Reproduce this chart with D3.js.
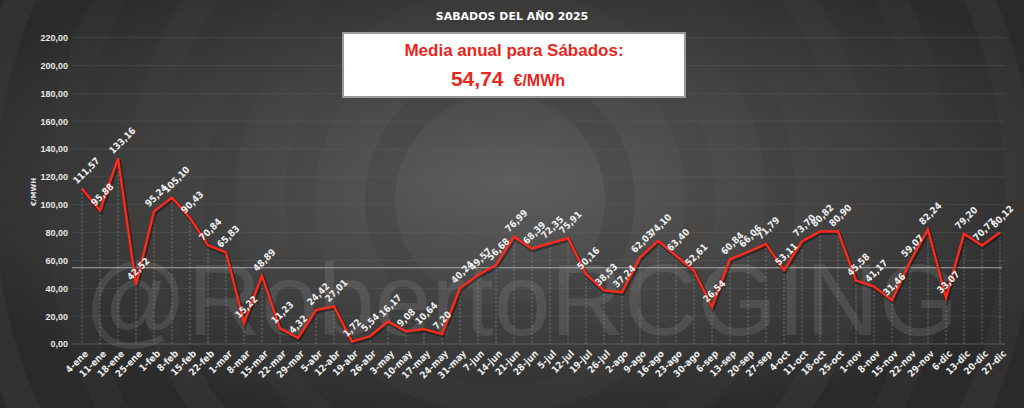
<!DOCTYPE html>
<html><head><meta charset="utf-8">
<script src="https://cdn.jsdelivr.net/npm/d3@7"></script>
<style>body{margin:0;background:#333;}svg{display:block;font-family:"DejaVu Sans",sans-serif;}</style>
</head><body>
<svg id="chart" width="1024" height="408"></svg>
<script>
// sabados 2025
const labels = ["4-ene","11-ene","18-ene","25-ene","1-feb","8-feb","15-feb","22-feb","1-mar","8-mar","15-mar","22-mar","29-mar","5-abr","12-abr","19-abr","26-abr","3-may","10-may","17-may","24-may","31-may","7-jun","14-jun","21-jun","28-jun","5-jul","12-jul","19-jul","26-jul","2-ago","9-ago","16-ago","23-ago","30-ago","6-sep","13-sep","20-sep","27-sep","4-oct","11-oct","18-oct","25-oct","1-nov","8-nov","15-nov","22-nov","29-nov","6-dic","13-dic","20-dic","27-dic"];
const precios = [111.57,95.88,133.16,42.52,95.24,105.10,90.43,70.84,65.83,15.22,48.89,11.23,4.32,24.42,27.01,1.72,5.54,16.17,9.08,10.64,7.20,40.24,49.57,56.68,76.99,68.39,72.35,75.91,50.16,38.53,37.24,62.03,74.10,63.40,52.61,26.54,60.84,66.06,71.79,53.11,73.70,80.82,80.90,45.58,41.17,31.46,59.07,82.24,33.07,79.20,70.77,80.12];
const yTicks = [0,20,40,60,80,100,120,140,160,180,200,220];
const media = 54.74;

const svg = d3.select("#chart");
const fmt = v => v.toFixed(2).replace(".", ",");
const narrow = "Liberation Sans Narrow, DejaVu Sans Condensed, sans-serif";

// fondo
const defs = svg.append("defs");
const rg = defs.append("radialGradient").attr("id","bg").attr("cx","50%").attr("cy","45%").attr("r","60%");
rg.append("stop").attr("offset","0%").attr("stop-color","#5e5e5e");
rg.append("stop").attr("offset","100%").attr("stop-color","#2a2a2a");
svg.append("rect").attr("width",1024).attr("height",408).attr("fill","url(#bg)");
[120,200,280,360,440,520].forEach((r,i) => {
  svg.append("circle").attr("cx",500).attr("cy",200).attr("r",r)
    .attr("fill","none").attr("stroke", i%2 ? "#4a4040" : "#3e3a3a").attr("stroke-width",30).attr("opacity",0.3);
});

const x = d3.scalePoint().domain(labels).range([82, 1000]);
const y = d3.scaleLinear().domain([0,220]).range([344, 37.6]);

// grid
svg.append("g").selectAll("line").data(yTicks.slice(1)).join("line")
  .attr("x1",72).attr("x2",1005).attr("y1",d=>y(d)).attr("y2",d=>y(d))
  .attr("stroke","#6a6a6a").attr("stroke-width",0.5).attr("opacity",0.6);

// watermark
svg.append("text").attr("x",84).attr("y",335)
  .attr("font-family","Liberation Sans, sans-serif").attr("font-size",102)
  .attr("fill","#9a9a9a").attr("opacity",0.2).text("@RobertoRCGING");

const ya = svg.append("g").attr("transform","translate(72,0)")
  .call(d3.axisLeft(y).tickValues(yTicks).tickFormat(fmt).tickSize(0).tickPadding(4));
ya.select(".domain").remove();
ya.selectAll("text").attr("fill","#e6e6e6").attr("font-size",9).attr("font-weight","bold");

svg.append("text").attr("transform","translate(36,192) rotate(-90)").attr("text-anchor","middle")
  .attr("fill","#e6e6e6").attr("font-size",7).attr("font-weight","bold").text("€/MWH");

// eje x
svg.append("line").attr("x1",72).attr("x2",1005).attr("y1",y(0)).attr("y2",y(0)).attr("stroke","#777").attr("stroke-width",0.6);
const xa = svg.append("g").attr("transform",`translate(0,${y(0)})`)
  .call(d3.axisBottom(x).tickSize(0).tickPadding(6));
xa.select(".domain").remove();
xa.selectAll("text").attr("fill","#eee").attr("font-size",9.5).attr("font-weight","bold").attr("font-family",narrow)
  .attr("text-anchor","end").attr("dx","-0.3em").attr("dy","0.6em").attr("transform","rotate(-45)");

// lineas verticales
svg.append("g").selectAll("line").data(precios).join("line")
  .attr("x1",(d,i)=>x(labels[i])).attr("x2",(d,i)=>x(labels[i]))
  .attr("y1",d=>y(d)).attr("y2",y(0))
  .attr("stroke","#8a8a8a").attr("stroke-width",0.7).attr("stroke-dasharray","2,2");

// media
svg.append("line").attr("x1",72).attr("x2",1002).attr("y1",y(media)).attr("y2",y(media))
  .attr("stroke","#a8a8a8").attr("stroke-width",1);

// serie
const line = d3.line().x((d,i)=>x(labels[i])).y(d=>y(d));
svg.append("path").datum(precios).attr("d",line).attr("fill","none")
  .attr("stroke","#000").attr("stroke-opacity",0.35).attr("stroke-width",4).attr("transform","translate(1,1.5)");
svg.append("path").datum(precios).attr("d",line).attr("fill","none")
  .attr("stroke","#ff2a1a").attr("stroke-width",2.4);

svg.append("g").selectAll("text").data(precios).join("text")
  .attr("transform",(d,i)=>`translate(${x(labels[i])-5},${y(d)-4}) rotate(-45)`)
  .attr("fill","#f0f0f0").attr("font-size",9.5).attr("font-weight","bold").attr("font-family",narrow)
  .text(d=>fmt(d));

// titulo y caja
svg.append("text").attr("x",512).attr("y",20).attr("text-anchor","middle").attr("fill","#fff")
  .attr("font-size",11).attr("font-weight","bold").text("SABADOS DEL AÑO 2025");
svg.append("rect").attr("x",343).attr("y",33).attr("width",342).attr("height",64)
  .attr("fill","#fff").attr("stroke","#999").attr("stroke-width",2);
svg.append("text").attr("x",514).attr("y",56).attr("text-anchor","middle").attr("fill","#e8261c")
  .attr("font-family","Liberation Sans, sans-serif").attr("font-size",17).attr("font-weight","bold")
  .text("Media anual para Sábados:");
svg.append("text").attr("x",508).attr("y",86).attr("text-anchor","middle").attr("fill","#e8261c")
  .attr("font-family","Liberation Sans, sans-serif").attr("font-weight","bold")
  .html(`<tspan font-size="21">${fmt(media)}</tspan><tspan font-size="16" dx="10">€/MWh</tspan>`);
</script>
</body></html>
